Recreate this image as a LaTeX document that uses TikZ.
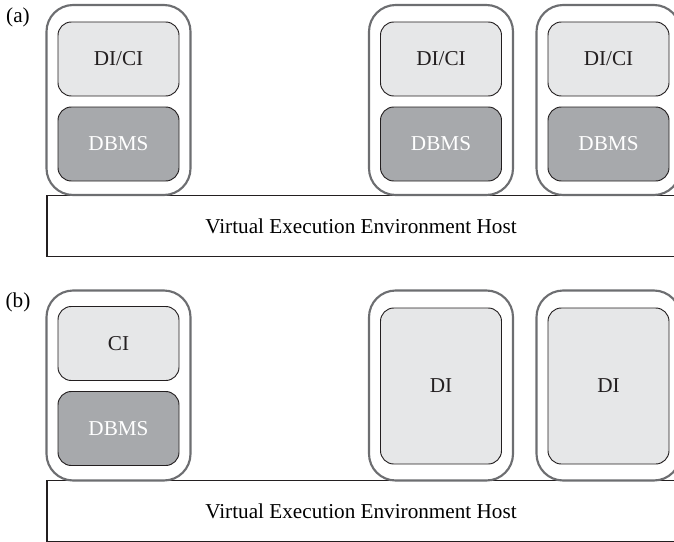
\documentclass[tikz,border=0pt]{standalone}
\usepackage{fontspec}
\setmainfont{Liberation Serif}
\usetikzlibrary{positioning}
\definecolor{vmgray}{RGB}{109,110,113}
\definecolor{lightfill}{RGB}{230,231,232}
\definecolor{darkfill}{RGB}{167,169,172}
\definecolor{edgeblack}{RGB}{35,31,32}

\begin{document}
\begin{tikzpicture}[x=0.75pt,y=-0.75pt,
  every node/.style={font=\fontsize{15.9}{18}\selectfont,inner sep=0pt,outer sep=0pt},
  vm/.style={draw=vmgray,line width=1.6pt,rounded corners=20pt,minimum width=108pt,minimum height=142.5pt},
  inst/.style={draw=edgeblack,line width=0.7pt,rounded corners=10pt,fill=lightfill,text=edgeblack,minimum width=90.75pt,minimum height=55.5pt},
  dbms/.style={inst,fill=darkfill,text=white},
  host/.style={draw=edgeblack,line width=0.9pt,minimum width=471pt,minimum height=45.75pt}]
  \useasboundingbox (0,0) rectangle (674,542);
  % (a) every VM carries DI/CI and its own DBMS
  \node (labela) at (18,17) {(a)};
  \node[host] (hosta) at (361,226) {Virtual Execution Environment Host};
  \foreach \i/\x in {1/118.5,2/441,3/608.5}{
    \node[vm] (vma\i) at (\x,100) {};
    \node[inst] (cia\i) at (\x,59) {DI/CI};
    \node[dbms,below=8.25pt of cia\i] (dbmsa\i) {DBMS};
  }
  % (b) CI with DBMS on one VM, DIs alone
  \node (labelb) at (18,302) {(b)};
  \node[host] (hostb) at (361,511) {Virtual Execution Environment Host};
  \node[vm] (vmb1) at (118.5,385.5) {};
  \node[inst] (cib1) at (118.5,343.5) {CI};
  \node[dbms,below=8.25pt of cib1] (dbmsb1) {DBMS};
  \foreach \i/\x in {2/441,3/608.5}{
    \node[vm] (vmb\i) at (\x,385.5) {};
    \node[inst,minimum height=117pt] (dib\i) at (\x,386) {DI};
  }
\end{tikzpicture}
\end{document}
